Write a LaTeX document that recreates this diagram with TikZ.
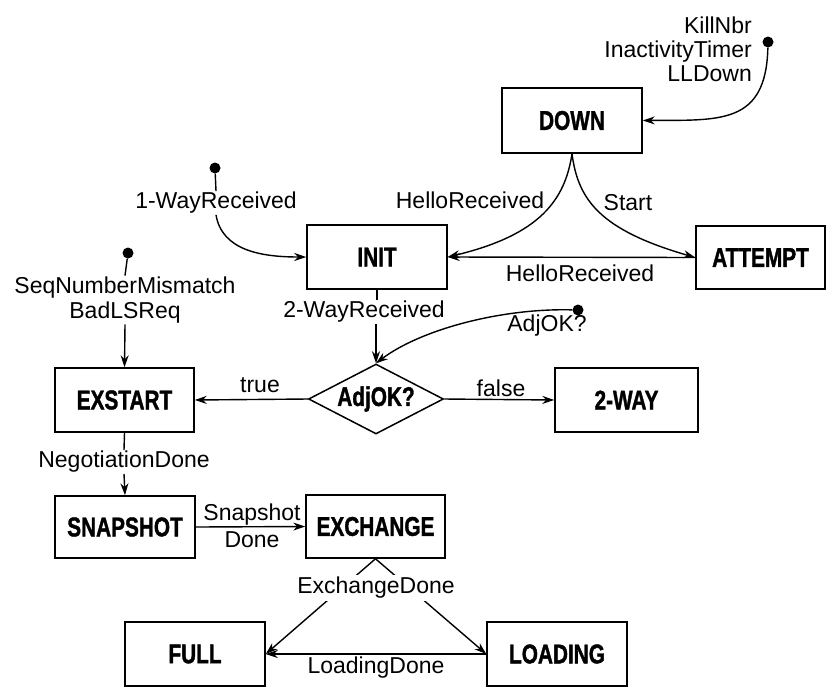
\documentclass[tikz,border=0pt]{standalone}
\usepackage{fontspec}
\setmainfont{Liberation Sans}
\newfontfamily\heavyfont[FakeBold=1.6]{Liberation Sans Bold}
\usetikzlibrary{arrows.meta,shapes.geometric}
\newcommand{\bxtxt}[1]{\scalebox{0.77}[1]{\heavyfont #1}}
\tikzset{
  state/.style={draw, line width=1.5pt, rectangle, inner sep=0pt, font=\fontsize{27}{27}\selectfont},
  decide/.style={draw, line width=1.5pt, diamond, aspect=2, inner sep=0pt, font=\fontsize{27}{27}\selectfont},
  lbl/.style={font=\fontsize{23}{24}\selectfont, inner sep=1pt, align=center},
  conn/.style={line width=1.4pt, -{Stealth[length=12pt,width=8pt]}},
  plain/.style={line width=1.4pt},
  pin/.style={circle, fill=black, inner sep=0pt, minimum size=11pt},
}
\begin{document}
\begin{tikzpicture}[x=1pt,y=-1pt]
\clip (0,0) rectangle (826,686);
\fill[white] (0,0) rectangle (826,686);

% states
\node[state, minimum width=140pt, minimum height=65pt] (down) at (572,120.5) {\bxtxt{DOWN}};
\node[state, minimum width=140pt, minimum height=64pt] (init) at (377,257) {\bxtxt{INIT}};
\node[state, minimum width=129pt, minimum height=63pt] (att) at (760.5,257.5) {\bxtxt{ATTEMPT}};
\node[state, minimum width=139pt, minimum height=64pt] (exst) at (124.5,400) {\bxtxt{EXSTART}};
\node[decide, minimum width=135pt, minimum height=70pt] (adj) at (376,399) {\bxtxt{AdjOK?}};
\node[state, minimum width=143pt, minimum height=64pt] (tw) at (626.5,400) {\bxtxt{2-WAY}};
\node[state, minimum width=140pt, minimum height=62pt] (snap) at (125,527) {\bxtxt{SNAPSHOT}};
\node[state, minimum width=139pt, minimum height=63pt] (exch) at (375.5,526.5) {\bxtxt{EXCHANGE}};
\node[state, minimum width=140pt, minimum height=64pt] (full) at (195,654) {\bxtxt{FULL}};
\node[state, minimum width=140pt, minimum height=64pt] (load) at (557,654) {\bxtxt{LOADING}};

% pins and event labels
\node[pin] (p1) at (768,42) {};
\node[lbl, align=right, anchor=east] (l1) at (753,49) {KillNbr\\InactivityTimer\\LLDown};
\node[pin] (p2) at (215,168) {};
\node[lbl] (l2) at (216,203) {1-WayReceived};
\node[pin] (p3) at (128,253) {};
\node[lbl, font=\fontsize{23}{25}\selectfont] (l3) at (125,300) {SeqNumberMismatch\\BadLSReq};
\node[lbl] (l4) at (364,312) {2-WayReceived};
\node[pin] (p4) at (578,310) {};
\node[lbl] (l6) at (547,326) {AdjOK?};
\node[lbl] (l5) at (124,462) {NegotiationDone};

\node[lbl] (hr1) at (470,200) {HelloReceived};
\node[lbl] (st) at (628,203) {Start};
\node[lbl] (hr2) at (580,273) {HelloReceived};
\node[lbl] (tr) at (260,385) {true};
\node[lbl] (fa) at (501,388) {false};
\node[lbl] (sd1) at (252,515) {Snapshot};
\node[lbl] (sd2) at (252,540) {Done};
\node[lbl] (ld) at (376,668) {LoadingDone};

% connectors
\draw[conn] (p1) .. controls (766,125) and (720,120) .. (down.east);
\draw[conn] (down.south) .. controls (565,200) and (540,235) .. (init.east);
\draw[conn] (down.south) .. controls (578,200) and (600,230) .. (att.west);
\draw[conn] (att.west) -- (init.east);
\draw[plain] (p2) -- (l2.north);
\draw[conn] (l2.south) .. controls (222,250) and (260,257) .. (init.west);
\draw[plain] (p3) -- (l3.north);
\draw[conn] (l3.south) -- (exst.north);
\draw[plain] (init.south) -- (init.south |- l4.north);
\draw[conn] (adj.north |- l4.south) -- (adj.north);
\draw[conn] (p4) .. controls (500,308) and (420,330) .. (adj.north);
\draw[conn] (adj.west) -- (exst.east);
\draw[conn] (adj.east) -- (tw.west);
\draw[plain] (exst.south) -- (l5.north);
\draw[conn] (l5.south) -- (snap.north);
\draw[conn] (snap.east) -- (exch.west);
\draw[conn] (exch.south) -- (full.east);
\draw[conn] (exch.south) -- (load.west);
\draw[conn] (load.west) -- (full.east);
\node[lbl, fill=white, inner sep=2pt] (ed) at (376,588) {ExchangeDone};
\end{tikzpicture}
\end{document}
